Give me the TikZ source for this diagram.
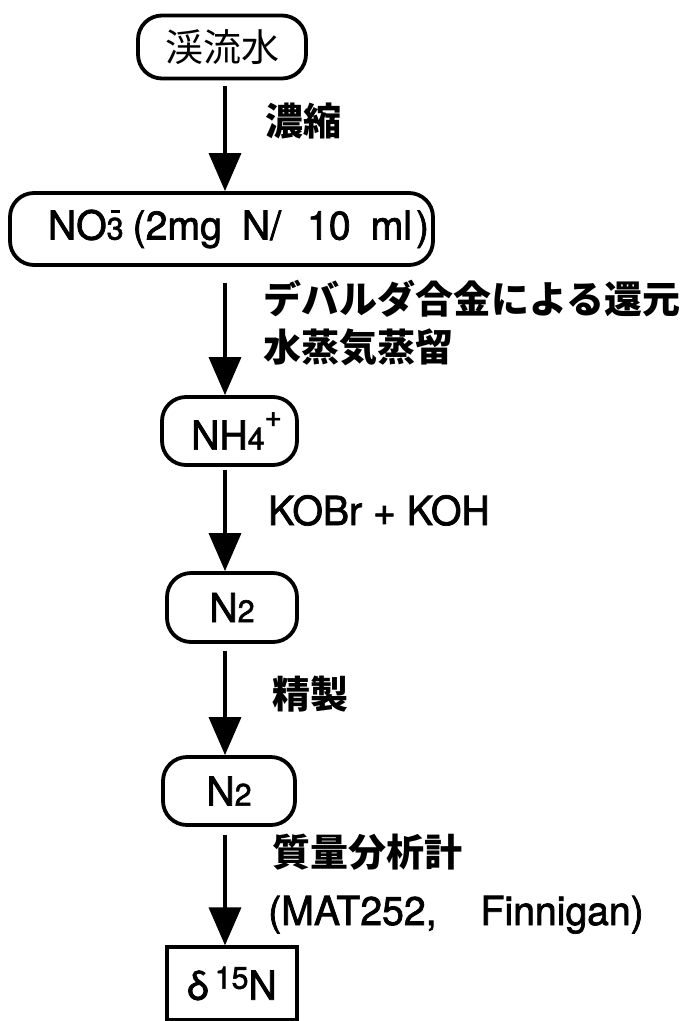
\documentclass[tikz,border=0pt]{standalone}
\usepackage{fontspec}
\setmainfont[FakeStretch=0.98, FakeBold=1.8]{TeX Gyre Heros}
\newfontfamily\jp{Noto Sans CJK JP}
\usetikzlibrary{arrows.meta}
\newcommand{\fs}{\fontsize{40}{42}\selectfont}
\newcommand{\js}{\fontsize{38}{40}\selectfont}
\newcommand{\sm}{\fontsize{31}{32}\selectfont}
\newcommand{\tn}{\fontsize{30}{30}\selectfont}
\begin{document}
\begin{tikzpicture}[x=1pt,y=-1pt,
  rbox/.style={draw, line width=3.8pt, rounded corners=24pt, inner sep=0pt, font=\fs},
  sbox/.style={draw, line width=3.2pt, inner sep=0pt, font=\fs},
  lbl/.style={anchor=base west, inner sep=0pt, font=\fs},
  jlbl/.style={anchor=base west, inner sep=0pt, font=\jp\bfseries\js},
  arr/.style={line width=3.6pt, -{Triangle[length=38pt,width=32pt]}}]
\useasboundingbox (0,0) rectangle (684,1021);
\coordinate (ax) at (225,0);
\node[rbox, minimum width=168pt, minimum height=63pt] (b1) at (222,47) {\jp\js 渓流水};
\node[rbox, minimum width=423pt, minimum height=72pt] (b2) at (221.5,229)
  {\hspace*{34pt}NO\makebox[0pt][l]{\raisebox{27pt}{\kern4pt\rule{9pt}{2.6pt}}}{\sm 3}\hspace{9pt}(2mg\hspace{20pt}N/\hspace{26pt}10\hspace{20pt}ml\hspace{4pt})};
\node[rbox, minimum width=135pt, minimum height=68pt] (b3) at (229.5,431)
  {\hspace*{14pt}NH{\sm 4}\raisebox{23pt}{\tn +}};
\node[rbox, minimum width=130pt, minimum height=69pt] (b4) at (232,607.5) {N{\sm 2}};
\node[rbox, minimum width=132pt, minimum height=68pt] (b5) at (229,791) {N{\sm 2}};
\node[sbox, minimum width=130pt, minimum height=73pt] (b6) at (232,983.5)
  {δ\hspace{6pt}\raisebox{11pt}{\sm 15}N};
\draw[arr] ([yshift=-6pt]b1.south -| ax) -- (b2.north -| ax);
\draw[arr] ([yshift=-16pt]b2.south -| ax) -- (b3.north -| ax);
\draw[arr] ([yshift=-3pt]b3.south -| ax) -- (b4.north -| ax);
\draw[arr] ([yshift=-7pt]b4.south -| ax) -- (b5.north -| ax);
\draw[arr] ([yshift=-8pt]b5.south -| ax) -- (b6.north -| ax);
\node[jlbl] (l1) at (265,135) {濃縮};
\node[jlbl] (l2) at (263,313) {デバルダ合金による還元};
\node[jlbl] (l3) at (263,361) {水蒸気蒸留};
\node[lbl] (l4) at (268,525) {KOBr + KOH};
\node[jlbl] (l5) at (272,708) {精製};
\node[jlbl] (l6) at (272,866) {質量分析計};
\node[lbl] (l7) at (268,925) {(MAT252,\hspace{1.1em}Finnigan)};
\end{tikzpicture}
\end{document}
